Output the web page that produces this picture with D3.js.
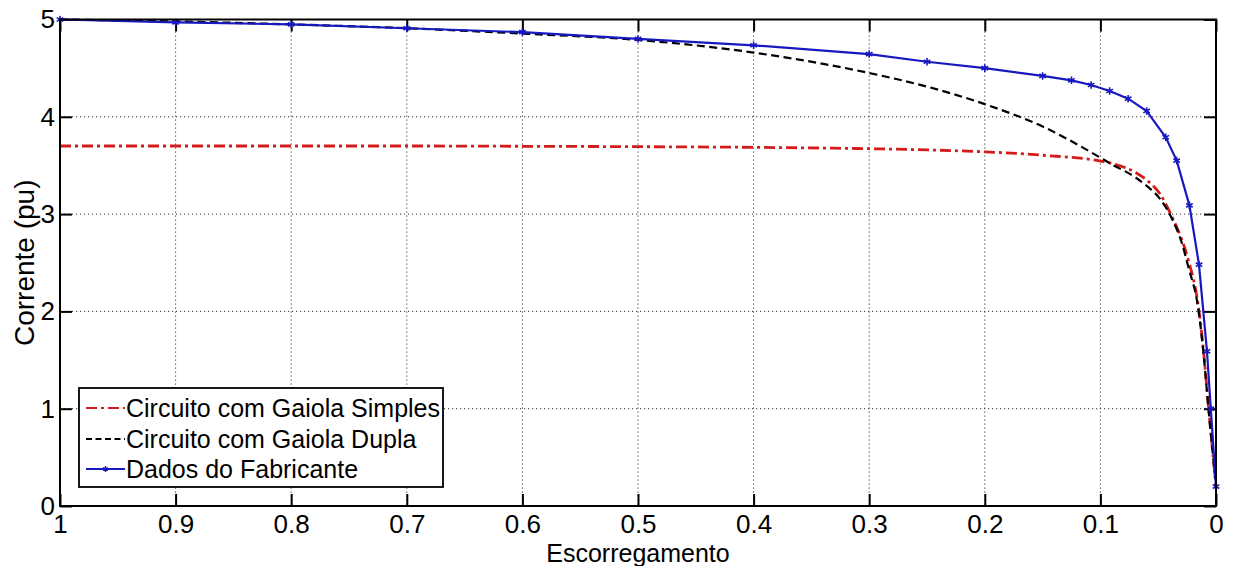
<!DOCTYPE html>
<html>
<head>
<meta charset="utf-8">
<script src="https://cdn.jsdelivr.net/npm/d3@7"></script>
<style>
  body { margin: 0; background: #fff; }
  text { font-family: "Liberation Sans", Arial, sans-serif; fill: #000; }
</style>
</head>
<body>
<svg id="chart" width="1240" height="566"></svg>
<script>
// Slip (escorregamento) and current (pu) values
const slipFab = [1, 0.9, 0.8, 0.7, 0.6, 0.5, 0.4, 0.3, 0.25, 0.2, 0.15, 0.125, 0.108, 0.092, 0.076, 0.06, 0.0435, 0.034, 0.023, 0.0147, 0.0078, 0.0045, 0];
const currentFab = [5.0, 4.97, 4.95, 4.91, 4.87, 4.80, 4.735, 4.645, 4.566, 4.50, 4.42, 4.375, 4.327, 4.265, 4.186, 4.06, 3.79, 3.55, 3.09, 2.48, 1.59, 1.0, 0.2];

const slipModel = [1, 0.9, 0.8, 0.7, 0.6, 0.5, 0.4, 0.3, 0.25, 0.2, 0.15, 0.1, 0.09, 0.07, 0.06, 0.048, 0.038, 0.03, 0.024, 0.015, 0.011, 0.0065, 0];
const currentSimples = [3.70, 3.70, 3.70, 3.70, 3.697, 3.693, 3.686, 3.672, 3.66, 3.64, 3.605, 3.545, 3.52, 3.43, 3.35, 3.2, 2.97, 2.75, 2.53, 2.03, 1.62, 1.02, 0.2];
const currentDupla = [5.0, 4.98, 4.95, 4.91, 4.855, 4.79, 4.66, 4.45, 4.31, 4.13, 3.9, 3.58, 3.51, 3.38, 3.29, 3.15, 2.95, 2.72, 2.46, 2.0, 1.59, 1.0, 0.2];

const xTicks = [1, 0.9, 0.8, 0.7, 0.6, 0.5, 0.4, 0.3, 0.2, 0.1, 0];
const xTickLabels = ['1', '0.9', '0.8', '0.7', '0.6', '0.5', '0.4', '0.3', '0.2', '0.1', '0'];
const yTicks = [0, 1, 2, 3, 4, 5];

const legendNames = ['Circuito com Gaiola Simples', 'Circuito com Gaiola Dupla', 'Dados do Fabricante'];

// Setting up SVG
const svg = d3.select('#chart');
const PL = 60, PR = 1216, PT = 19.5, PB = 506;
const TICK = 12;

const x = d3.scaleLinear().domain([1, 0]).range([PL, PR]);
const y = d3.scaleLinear().domain([0, 5]).range([PB, PT]);

svg.append('rect').attr('width', 1240).attr('height', 566).attr('fill', '#fff');

// grid
let grid = svg.append('g')
  .attr('stroke', '#333')
  .attr('stroke-width', 1)
  .attr('stroke-dasharray', '1.2,2.8');
grid.selectAll('.vg')
  .data(xTicks.slice(1, -1))
  .enter().append('line')
  .attr('x1', d => x(d)).attr('x2', d => x(d))
  .attr('y1', PT).attr('y2', PB);
grid.selectAll('.hg')
  .data(yTicks.slice(1, -1))
  .enter().append('line')
  .attr('y1', d => y(d)).attr('y2', d => y(d))
  .attr('x1', PL).attr('x2', PR);

// axes with inward ticks on all four sides (matlab box)
const xBottom = d3.axisBottom(x).tickValues(xTicks)
  .tickSizeInner(-TICK).tickSizeOuter(0).tickPadding(9)
  .tickFormat((d, i) => xTickLabels[i]);
const xTop = d3.axisTop(x).tickValues(xTicks).tickSizeInner(-TICK).tickSizeOuter(0).tickFormat('');
const yLeft = d3.axisLeft(y).tickValues(yTicks)
  .tickSizeInner(-TICK).tickSizeOuter(0).tickPadding(5)
  .tickFormat(d3.format('d'));
const yRight = d3.axisRight(y).tickValues(yTicks).tickSizeInner(-TICK).tickSizeOuter(0).tickFormat('');

function styleAxis(g) {
  g.select('.domain').remove();
  g.selectAll('line').attr('stroke', '#000').attr('stroke-width', 2);
  g.selectAll('text')
    .style('font-family', '"Liberation Sans", Arial, sans-serif')
    .style('font-size', '26px')
    .attr('fill', '#000');
}

svg.append('g').attr('transform', `translate(0,${PB})`).call(xBottom).call(styleAxis);
svg.append('g').attr('transform', `translate(0,${PT})`).call(xTop).call(styleAxis);
svg.append('g').attr('transform', `translate(${PL},0)`).call(yLeft).call(styleAxis);
svg.append('g').attr('transform', `translate(${PR},0)`).call(yRight).call(styleAxis);

// lines
svg.append('clipPath').attr('id', 'plotclip')
  .append('rect').attr('x', PL - 4).attr('y', PT - 4)
  .attr('width', PR - PL + 8).attr('height', PB - PT + 8);

let plot = svg.append('g').attr('clip-path', 'url(#plotclip)');

const smooth = d3.line().x(d => x(d[0])).y(d => y(d[1])).curve(d3.curveMonotoneX);
const straight = d3.line().x(d => x(d[0])).y(d => y(d[1]));

plot.append('path')
  .datum(slipModel.map((s, i) => [s, currentSimples[i]]))
  .attr('d', smooth)
  .attr('fill', 'none')
  .attr('stroke', '#d41c1c')
  .attr('stroke-width', 2.8)
  .attr('stroke-dasharray', '11,4,3,4');

plot.append('path')
  .datum(slipModel.map((s, i) => [s, currentDupla[i]]))
  .attr('d', smooth)
  .attr('fill', 'none')
  .attr('stroke', '#000')
  .attr('stroke-width', 2.2)
  .attr('stroke-dasharray', '8,4.5');

const fab = slipFab.map((s, i) => [s, currentFab[i]]);
plot.append('path')
  .datum(fab)
  .attr('d', straight)
  .attr('fill', 'none')
  .attr('stroke', '#1818c0')
  .attr('stroke-width', 2.2);

const star = d3.symbol().type(d3.symbolAsterisk).size(40);
plot.selectAll('.mk')
  .data(fab)
  .enter().append('path')
  .attr('d', star)
  .attr('transform', d => `translate(${x(d[0])},${y(d[1])})`)
  .attr('fill', 'none')
  .attr('stroke', '#1818c0')
  .attr('stroke-width', 1.6);

// box
svg.append('rect')
  .attr('x', PL).attr('y', PT)
  .attr('width', PR - PL).attr('height', PB - PT)
  .attr('fill', 'none').attr('stroke', '#000').attr('stroke-width', 2);

// axis labels
svg.append('text')
  .attr('x', (PL + PR) / 2).attr('y', 562)
  .attr('text-anchor', 'middle')
  .style('font-size', '25px')
  .text('Escorregamento');

svg.append('text')
  .attr('transform', `translate(34,${(PT + PB) / 2}) rotate(-90)`)
  .attr('text-anchor', 'middle')
  .style('font-size', '28px')
  .text('Corrente (pu)');

// legend
const legend = svg.append('g');
legend.append('rect')
  .attr('x', 79).attr('y', 388).attr('width', 364).attr('height', 99)
  .attr('fill', '#fff').attr('stroke', '#000').attr('stroke-width', 1.8);

const legendStyles = [
  { color: '#d41c1c', dash: '11,4,3,4', width: 2 },
  { color: '#000', dash: '6,3.5', width: 1.8 },
  { color: '#1818c0', dash: null, width: 2 }
];
const rowY = [408, 439, 469];

let rows = legend.selectAll('.row')
  .data(legendNames)
  .enter().append('g')
  .attr('transform', (d, i) => `translate(0,${rowY[i]})`);

rows.append('line')
  .attr('x1', 86).attr('x2', 125)
  .attr('stroke', (d, i) => legendStyles[i].color)
  .attr('stroke-width', (d, i) => legendStyles[i].width)
  .attr('stroke-dasharray', (d, i) => legendStyles[i].dash);

rows.filter((d, i) => i === 2).append('path')
  .attr('d', d3.symbol().type(d3.symbolAsterisk).size(24))
  .attr('transform', 'translate(105.5,0)')
  .attr('fill', 'none').attr('stroke', '#1818c0').attr('stroke-width', 1.4);

rows.append('text')
  .attr('x', 126).attr('dy', '0.35em')
  .style('font-size', '25px')
  .text(d => d);
</script>
</body>
</html>
